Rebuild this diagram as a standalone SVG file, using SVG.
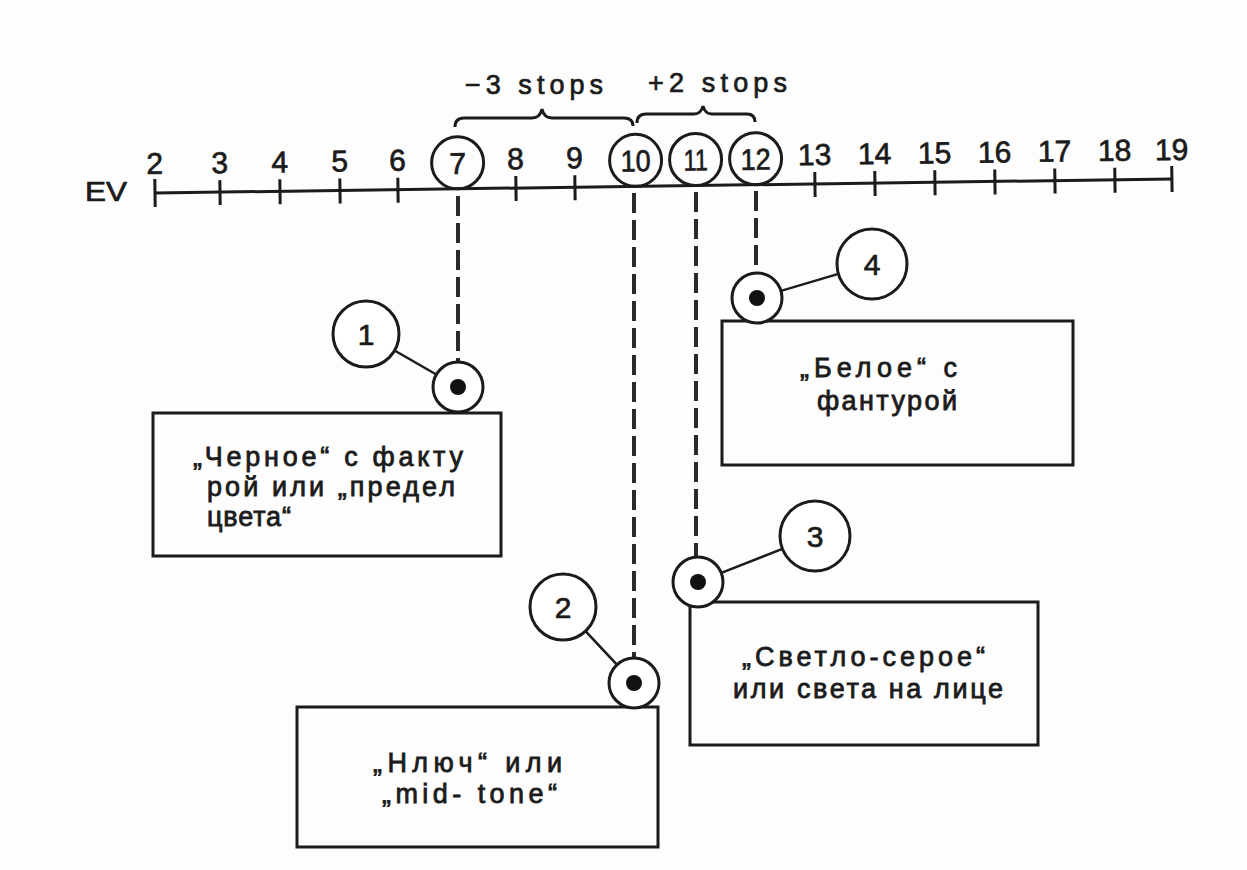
<svg xmlns="http://www.w3.org/2000/svg" width="1247" height="870" viewBox="0 0 1247 870">
<style>
.ln{stroke:#1b1b1b;fill:none;stroke-width:3}
.tk{stroke:#1b1b1b;stroke-width:3}
.num{font-family:"Liberation Sans",Arial,sans-serif;font-size:30px;fill:#1b1b1b;stroke:#1b1b1b;stroke-width:0.7;text-anchor:middle}
.lbl{font-family:"Liberation Sans",Arial,sans-serif;font-size:27px;fill:#1b1b1b;stroke:#1b1b1b;stroke-width:0.7}
.bx{fill:none;stroke:#1b1b1b;stroke-width:3}
.bt{font-family:"Liberation Sans",Arial,sans-serif;font-size:27px;fill:#1b1b1b;stroke:#1b1b1b;stroke-width:0.8}
.dash{stroke:#2a2a2a;stroke-width:4;stroke-dasharray:20 7;fill:none}
.oc{fill:#fff;stroke:#1b1b1b;stroke-width:3}
.cn{stroke:#1b1b1b;stroke-width:2.5}
</style>
<rect width="1247" height="870" fill="#fdfdfd"/>

<g id="axis" transform="rotate(-0.79 155 193)">
  <line class="ln" x1="155" y1="193" x2="1172" y2="193"/>
  <g class="tk">
    <line x1="155" y1="179" x2="155" y2="207"/>
    <line x1="220" y1="181" x2="220" y2="206"/>
    <line x1="280" y1="181" x2="280" y2="206"/>
    <line x1="340" y1="181" x2="340" y2="206"/>
    <line x1="398" y1="181" x2="398" y2="206"/>
    <line x1="516" y1="181" x2="516" y2="206"/>
    <line x1="575" y1="181" x2="575" y2="206"/>
    <line x1="815" y1="181" x2="815" y2="206"/>
    <line x1="875" y1="181" x2="875" y2="206"/>
    <line x1="935" y1="181" x2="935" y2="206"/>
    <line x1="995" y1="181" x2="995" y2="206"/>
    <line x1="1055" y1="181" x2="1055" y2="206"/>
    <line x1="1115" y1="181" x2="1115" y2="206"/>
    <line x1="1172" y1="180" x2="1172" y2="206"/>
  </g>
  <circle class="ln" cx="458" cy="167" r="26"/>
  <circle class="ln" cx="636" cy="167" r="26"/>
  <circle class="ln" cx="696" cy="167" r="26"/>
  <circle class="ln" cx="756" cy="167" r="26"/>
  <text class="num" x="155" y="174">2</text>
  <text class="num" x="220" y="174">3</text>
  <text class="num" x="280" y="174">4</text>
  <text class="num" x="340" y="174">5</text>
  <text class="num" x="398" y="174">6</text>
  <text class="num" x="458" y="178">7</text>
  <text class="num" x="516" y="174">8</text>
  <text class="num" x="575" y="174">9</text>
  <text class="num" x="636" y="178" textLength="30" lengthAdjust="spacingAndGlyphs">10</text>
  <text class="num" x="696" y="178" textLength="24" lengthAdjust="spacingAndGlyphs">11</text>
  <text class="num" x="756" y="178" textLength="30" lengthAdjust="spacingAndGlyphs">12</text>
  <text class="num" x="815" y="174">13</text>
  <text class="num" x="875" y="174">14</text>
  <text class="num" x="935" y="174">15</text>
  <text class="num" x="995" y="174">16</text>
  <text class="num" x="1055" y="174">17</text>
  <text class="num" x="1115" y="174">18</text>
  <text class="num" x="1172" y="174">19</text>
</g>
<text id="ev" class="lbl" x="85" y="201" font-size="28" textLength="42" lengthAdjust="spacingAndGlyphs">EV</text>

<g id="brace-minus3">
  <path class="ln" d="M455,127 Q455,118 464,118 L532,118 Q540,118 542,109 Q544,118 552,118 L624,118 Q633,118 633,126"/>
  <text class="lbl" x="465" y="94" textLength="138" lengthAdjust="spacing">−3 stops</text>
</g>
<g id="brace-plus2">
  <path class="ln" d="M637,123 Q637,114 646,114 L694,114 Q701,114 703,106 Q705,114 712,114 L747,114 Q755,114 755,122"/>
  <text class="lbl" x="648" y="92" textLength="139" lengthAdjust="spacing">+2 stops</text>
</g>

<g id="connectors">
  <line class="dash" x1="458" y1="196" x2="458" y2="362"/>
  <line class="dash" x1="634" y1="193" x2="634" y2="658"/>
  <line class="dash" x1="696" y1="192" x2="696" y2="557"/>
  <line class="dash" x1="756" y1="191" x2="756" y2="273"/>
  <line class="cn" x1="394.6" y1="350.5" x2="436.3" y2="374.5"/>
  <line class="cn" x1="585.5" y1="631.1" x2="616.9" y2="664.7"/>
  <line class="cn" x1="782.4" y1="548.8" x2="721.3" y2="572.9"/>
  <line class="cn" x1="838.4" y1="273.9" x2="781" y2="290.9"/>
</g>

<g id="node1">
  <rect class="bx" x="153" y="413" width="348" height="143"/>
  <circle class="oc" cx="366" cy="334" r="33"/>
  <text class="num" x="366" y="345">1</text>
  <circle class="oc" cx="458" cy="387" r="25"/>
  <circle cx="458" cy="387" r="8" fill="#111"/>
  <text class="bt" x="193" y="466" textLength="270" lengthAdjust="spacing">„Черное“ с факту</text>
  <text class="bt" x="207" y="496" textLength="248" lengthAdjust="spacing">рой или „предел</text>
  <text class="bt" x="207" y="526" textLength="84" lengthAdjust="spacing">цвета“</text>
</g>

<g id="node2">
  <rect class="bx" x="297" y="707" width="361" height="140"/>
  <circle class="oc" cx="563" cy="607" r="33"/>
  <text class="num" x="563" y="618">2</text>
  <circle class="oc" cx="634" cy="683" r="25"/>
  <circle cx="634" cy="683" r="8" fill="#111"/>
  <text class="bt" x="373" y="772" textLength="189" lengthAdjust="spacing">„Нлюч“ или</text>
  <text class="bt" x="382" y="803" textLength="175" lengthAdjust="spacing">„mid- tone“</text>
</g>

<g id="node3">
  <rect class="bx" x="690" y="602" width="348" height="143"/>
  <circle class="oc" cx="815" cy="536" r="35"/>
  <text class="num" x="815" y="547">3</text>
  <circle class="oc" cx="698" cy="582" r="25"/>
  <circle cx="698" cy="582" r="8" fill="#111"/>
  <text class="bt" x="742" y="666" textLength="243" lengthAdjust="spacing">„Светло-серое“</text>
  <text class="bt" x="733" y="698" textLength="270" lengthAdjust="spacing">или света на лице</text>
</g>

<g id="node4">
  <rect class="bx" x="722" y="321" width="351" height="144"/>
  <circle class="oc" cx="872" cy="264" r="35"/>
  <text class="num" x="872" y="275">4</text>
  <circle class="oc" cx="757" cy="298" r="25"/>
  <circle cx="757" cy="298" r="8" fill="#111"/>
  <text class="bt" x="800" y="377" textLength="157" lengthAdjust="spacing">„Белое“ с</text>
  <text class="bt" x="817" y="410" textLength="140" lengthAdjust="spacing">фантурой</text>
</g>
</svg>
